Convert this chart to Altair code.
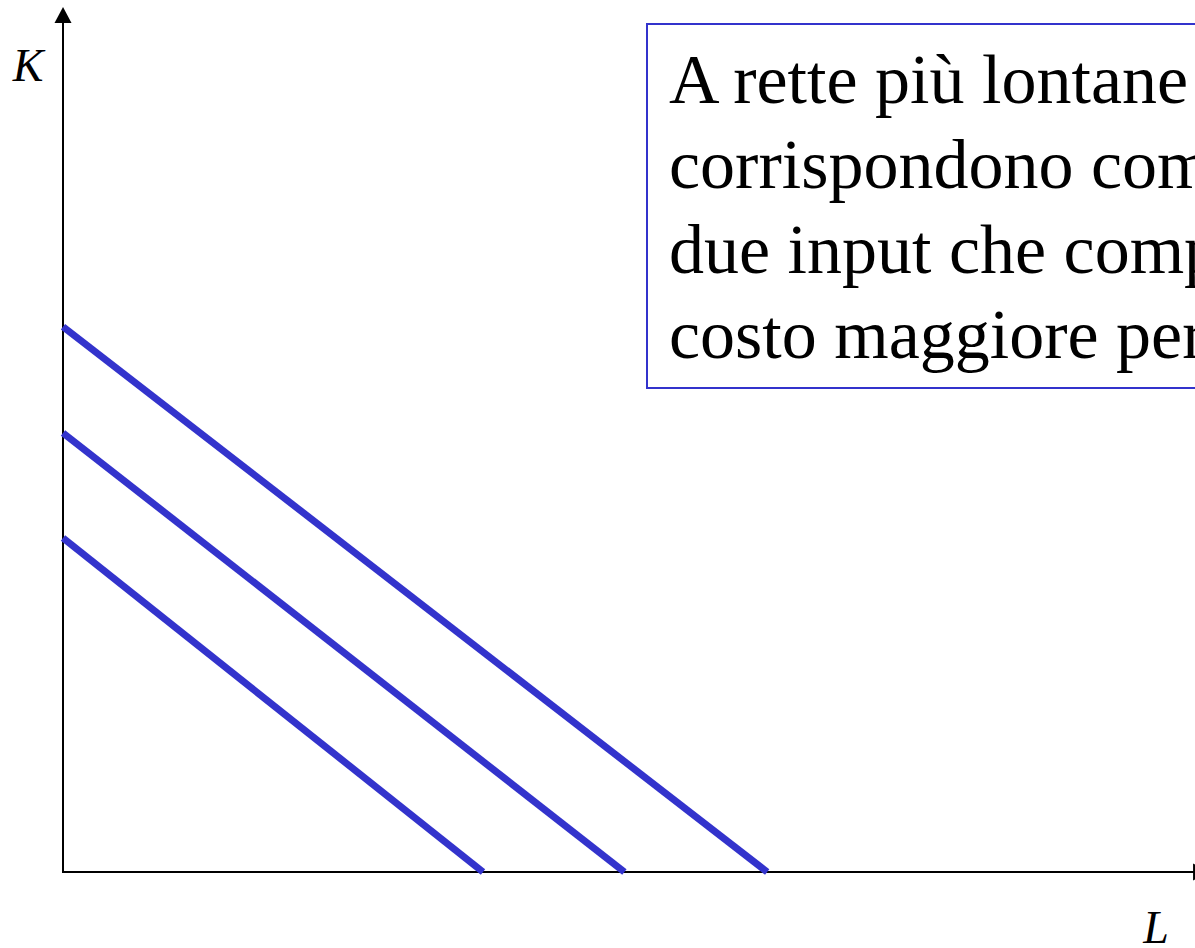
import altair as alt
import pandas as pd

# Isocost lines: intercepts on the K axis and on the L axis
levels = ["C1", "C2", "C3"]
k_intercepts = [3.05, 4.01, 4.98]
l_intercepts = [3.0, 4.01, 5.03]

# Extent of the two axes (arrow tips)
k_axis_end = 7.78
l_axis_end = 8.12
k_arrow_at = 7.826
l_arrow_at = 8.129

note_lines = [
    "A rette più lontane",
    "corrispondono combinazioni dei",
    "due input che comportano un",
    "costo maggiore per l’impresa",
]

BLUE = "#3333CC"
SERIF = "Times New Roman, Liberation Serif, serif"

rows = []
for lev, k0, l0 in zip(levels, k_intercepts, l_intercepts):
    rows.append({"level": lev, "L": 0.0, "K": k0})
    rows.append({"level": lev, "L": l0, "K": 0.0})
lines_df = pd.DataFrame(rows)

xs = alt.Scale(domain=[0, 8], range=[63, 63 + 8 * 140], nice=False, zero=False)
ys = alt.Scale(domain=[0, 8], range=[872, 872 - 8 * 109.5], nice=False, zero=False)

X = lambda f: alt.X(f, type="quantitative", scale=xs, axis=None)
Y = lambda f: alt.Y(f, type="quantitative", scale=ys, axis=None)

axes_df = pd.DataFrame([
    {"L": 0.0, "K": 0.0, "L2": 0.0, "K2": k_axis_end},
    {"L": 0.0, "K": 0.0, "L2": l_axis_end, "K2": 0.0},
])
axes = alt.Chart(axes_df).mark_rule(color="black", strokeWidth=2, strokeCap="square").encode(
    x=X("L"), y=Y("K"), x2="L2", y2="K2"
)

up = alt.Chart(pd.DataFrame([{"L": 0.0, "K": k_arrow_at}])).mark_point(
    shape="M0,-0.94L1,0.94L-1,0.94Z", size=289, filled=True, color="black", opacity=1, strokeWidth=0
).encode(x=X("L"), y=Y("K"))
right = alt.Chart(pd.DataFrame([{"L": l_arrow_at, "K": 0.0}])).mark_point(
    shape="M0.94,0L-0.94,1L-0.94,-1Z", size=289, filled=True, color="black", opacity=1, strokeWidth=0
).encode(x=X("L"), y=Y("K"))

isocost = alt.Chart(lines_df).mark_line(color=BLUE, strokeWidth=7, strokeCap="butt").encode(
    x=X("L"), y=Y("K"), detail="level:N"
)

one = alt.Data(values=[{}])
k_label = alt.Chart(one).mark_text(
    text="K", font=SERIF, fontSize=46, fontStyle="italic", align="center", baseline="alphabetic", color="black"
).encode(x=alt.value(28), y=alt.value(81))
l_label = alt.Chart(one).mark_text(
    text="L", font=SERIF, fontSize=46, fontStyle="italic", align="center", baseline="alphabetic", color="black"
).encode(x=alt.value(1156), y=alt.value(943))

box = alt.Chart(one).mark_rect(fill="white", stroke=BLUE, strokeWidth=2).encode(
    x=alt.value(647), x2=alt.value(1260), y=alt.value(24), y2=alt.value(388)
)
note = alt.Chart(one).mark_text(
    text=note_lines, font=SERIF, fontSize=70, lineHeight=85, align="left", baseline="alphabetic", color="black"
).encode(x=alt.value(669), y=alt.value(103))

chart = alt.layer(axes, up, right, isocost, k_label, l_label, box, note).properties(
    width=1195, height=948, padding=0, autosize=alt.AutoSizeParams(type="none"), background="white"
).configure_view(stroke=None)

chart.save("out.html", embed_options={"renderer": "svg", "actions": False})
